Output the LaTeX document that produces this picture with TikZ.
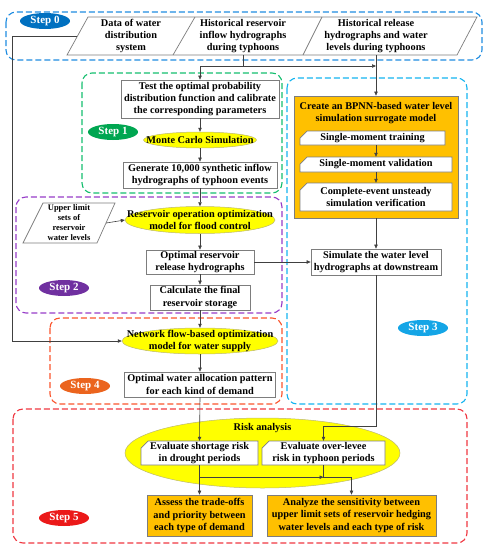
\documentclass[tikz,border=0pt]{standalone}
\usepackage{fontspec}
\setmainfont{Liberation Serif}
\usetikzlibrary{arrows.meta,calc,shapes.geometric}
\definecolor{stepblue}{RGB}{0,112,192}
\definecolor{frameblue}{RGB}{30,140,225}
\definecolor{stepgreen}{RGB}{0,166,81}
\definecolor{framegreen}{RGB}{20,190,110}
\definecolor{steppurple}{RGB}{112,48,160}
\definecolor{framepurple}{RGB}{150,60,200}
\definecolor{stepcyan}{RGB}{20,165,230}
\definecolor{framecyan}{RGB}{20,180,240}
\definecolor{steporange}{RGB}{235,100,30}
\definecolor{frameorange}{RGB}{250,85,45}
\definecolor{stepred}{RGB}{235,25,25}
\definecolor{framered}{RGB}{240,55,65}
\definecolor{ovalyellow}{RGB}{255,255,0}
\definecolor{boxorange}{RGB}{255,192,0}
\definecolor{edgegray}{RGB}{125,125,125}

% card: rectangle with cut top-left corner; name, x, y, width, height, text
\newcommand{\cardbox}[6]{%
  \filldraw[fill=white,draw=edgegray,line width=0.7pt]
    ({#2-#4/2+7},{#3-#5/2}) -- ({#2+#4/2},{#3-#5/2}) -- ({#2+#4/2},{#3+#5/2})
    -- ({#2-#4/2},{#3+#5/2}) -- ({#2-#4/2},{#3-#5/2+7}) -- cycle;
  \node[txt,minimum width=#4pt,minimum height=#5pt] (#1) at (#2,#3) {#6};}
% yellow oval of fixed size; name, x, y, width, height, text
\newcommand{\ovalbox}[6]{%
  \filldraw[fill=ovalyellow,draw=gray!60!yellow,line width=0.5pt]
    (#2,#3) ellipse [x radius=#4/2,y radius=#5/2];
  \node[txt,minimum width=#4pt,minimum height=#5pt] (#1) at (#2,#3) {#6};}

\begin{document}
\begin{tikzpicture}[x=1pt,y=-1pt,
  txt/.style={font=\bfseries\fontsize{10.3}{12.4}\selectfont,align=center,inner sep=0pt},
  wbox/.style={txt,draw=edgegray,fill=white,line width=0.7pt},
  obox/.style={txt,draw=edgegray,fill=boxorange,line width=0.7pt},
  stepoval/.style={ellipse,fill=#1,text=white,font=\bfseries\fontsize{11}{12}\selectfont,
    minimum width=50pt,minimum height=16pt,inner sep=0pt},
  stepframe/.style={draw=#1,dash pattern=on 6pt off 3pt,line width=1.1pt,rounded corners=10pt},
  flow/.style={-{Triangle[length=4pt,width=3.4pt]},line width=0.6pt,draw=black!75},
  link/.style={line width=0.6pt,draw=black!75}]
  \useasboundingbox (0,0) rectangle (490,550);

  % frames
  \draw[stepframe=frameblue] (6,12) rectangle (482,60);
  \draw[stepframe=framegreen] (82,73) rectangle (282,193);
  \draw[stepframe=framecyan] (287,78) rectangle (467,404);
  \draw[stepframe=framepurple] (16,197) rectangle (282,313);
  \draw[stepframe=frameorange] (50,318) rectangle (282,404);
  \draw[stepframe=framered] (13,409) rectangle (467,543);

  % step 0
  \node[stepoval=stepblue] (s0) at (45,21) {Step 0};
  \filldraw[fill=white,draw=edgegray,line width=0.7pt] (88,17) -- (477,17) -- (457,55) -- (67,55) -- cycle;
  \draw[edgegray,line width=0.7pt] (195,17) -- (173,55); \draw[edgegray,line width=0.7pt] (322,17) -- (303,55);
  \node[txt,minimum width=108pt,minimum height=38pt] (data) at (131,36) {Data of water\\distribution\\system};
  \node[txt,minimum width=110pt,minimum height=38pt] (inflow) at (243,36) {Historical reservoir\\inflow hydrographs\\during typhoons};
  \node[txt,minimum width=140pt,minimum height=38pt] (hrelease) at (376,36) {Historical release\\hydrographs and water\\levels during typhoons};

  % step 1
  \node[stepoval=stepgreen] (s1) at (113,132) {Step 1};
  \node[wbox,minimum width=158pt,minimum height=38pt] (test) at (200,99) {Test the optimal probability\\distribution function and calibrate\\the corresponding parameters};
  \ovalbox{monte}{200}{140}{113}{16}{Monte Carlo Simulation}
  \node[wbox,minimum width=154pt,minimum height=26pt] (gen) at (200,175) {Generate 10,000 synthetic inflow\\hydrographs of typhoon events};

  % step 2
  \node[stepoval=steppurple] (s2) at (64,288) {Step 2};
  \filldraw[fill=white,draw=edgegray,line width=0.7pt] (43,203) -- (115,203) -- (97,243) -- (23,243) -- cycle;
  \node[txt,font=\bfseries\fontsize{8.5}{10}\selectfont,minimum width=74pt,minimum height=40pt] (upper) at (69,223) {Upper limit\\sets of\\reservoir\\water levels};
  \ovalbox{resop}{200}{220}{150}{27}{Reservoir operation optimization\\model for flood control}
  \node[wbox,minimum width=108pt,minimum height=24pt] (optrel) at (200,262) {Optimal reservoir\\release hydrographs};
  \node[wbox,minimum width=100pt,minimum height=25pt] (calc) at (200,297.5) {Calculate the final\\reservoir storage};

  % step 4
  \node[stepoval=steporange] (s4) at (85,386) {Step 4};
  \ovalbox{netflow}{200}{341}{156}{26}{Network flow-based optimization\\model for water supply}
  \node[wbox,minimum width=151pt,minimum height=25pt] (alloc) at (200,384.5) {Optimal water allocation pattern\\for each kind of demand};

  % step 3
  \node[stepoval=stepcyan] (s3) at (423,328) {Step 3};
  \node[draw=edgegray,fill=boxorange,line width=0.7pt,minimum width=164pt,minimum height=122pt,inner sep=0pt] (bpnn) at (376,157) {};
  \node[txt] (bpnnlbl) at (376,113) {Create an BPNN-based water level\\simulation surrogate model};
  \cardbox{train}{372.5}{138}{145}{14}{Single-moment training}
  \cardbox{valid}{376}{164.5}{152}{15}{Single-moment validation}
  \cardbox{complete}{376}{197}{152}{28}{Complete-event unsteady\\simulation verification}
  \node[wbox,minimum width=130pt,minimum height=26pt] (simulate) at (376,262) {Simulate the water level\\hydrographs at downstream};

  % step 5
  \node[stepoval=stepred] (s5) at (64,518) {Step 5};
  \ovalbox{risk}{262.5}{453}{275}{70}{}
  \node[txt] (risklbl) at (262.5,428) {Risk analysis};
  \cardbox{shortage}{199.5}{453}{117}{24}{Evaluate shortage risk\\in drought periods}
  \cardbox{overlevee}{323.5}{453}{123}{24}{Evaluate over-levee\\risk in typhoon periods}
  \node[obox,minimum width=105pt,minimum height=41pt] (assess) at (199.5,515.5) {Assess the trade-offs\\and priority between\\each type of demand};
  \node[obox,minimum width=169pt,minimum height=41pt] (analyze) at (351.5,515.5) {Analyze the sensitivity between\\upper limit sets of reservoir hedging\\water levels and each type of risk};

  % connectors
  \coordinate (rail) at (12,36);
  \coordinate (split) at (243,66);
  \draw[flow] (data.west) -- (rail) |- (netflow.west);
  \draw[link] (inflow.south) -- (split);
  \draw[flow] (split) -| (test.north);
  \draw[flow] (split) -- (split -| hrelease.south);
  \draw[flow] (hrelease.south) -- (bpnn.north);
  \draw[flow] (test) -- (monte);
  \draw[flow] (monte) -- (gen);
  \draw[flow] (gen) -- (resop);
  \draw[flow] (upper.east) -- (resop.west);
  \draw[flow] (resop) -- (optrel);
  \draw[flow] (optrel) -- (calc);
  \draw[flow] (optrel.east) -- (simulate.west);
  \draw[flow] (calc) -- (netflow);
  \draw[flow] (netflow) -- (alloc);
  \draw[flow] (alloc.south) -- (shortage.north);
  \draw[flow] (valid.north |- train.south) -- (valid.north);
  \draw[flow] (valid.south) -- (complete.north);
  \draw[flow] (bpnn.south) -- (simulate.north);
  \draw[flow] (simulate.south) |- ($(overlevee.north)+(0,-15)$) -| (overlevee.north);
  \draw[flow] (shortage.south) -- (assess.north);
  \draw[flow] (shortage.south) |- ($(overlevee.south)+(0,12)$);
  \draw[flow] (overlevee.south) |- ($(analyze.north)+(0,-17)$) -| (analyze.north);
\end{tikzpicture}
\end{document}
